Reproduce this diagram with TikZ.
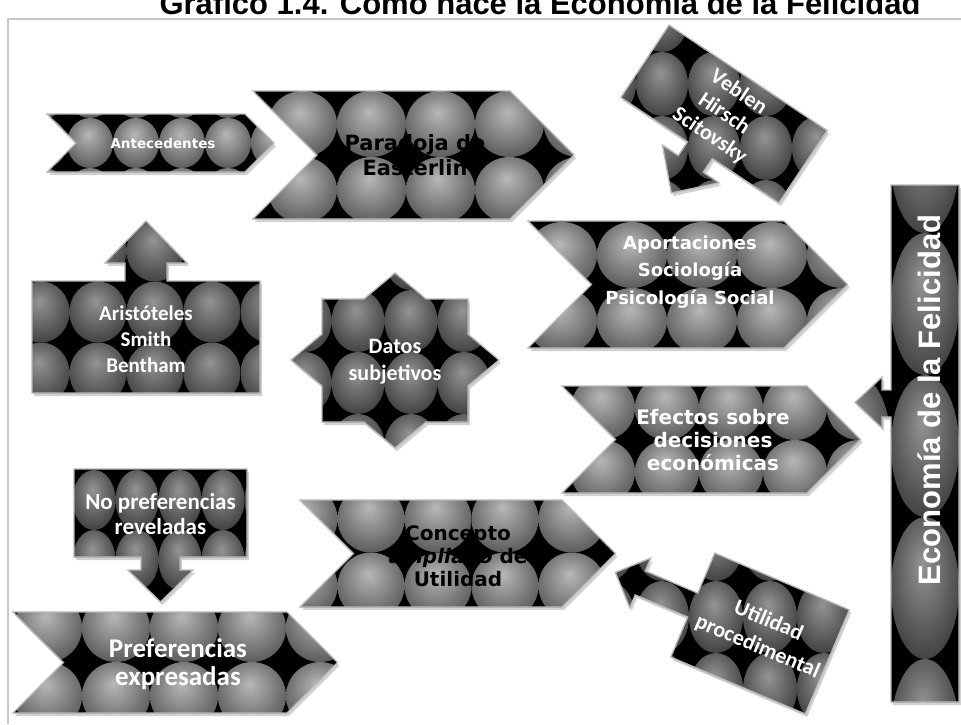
\documentclass[tikz,border=0pt]{standalone}
\usepackage{fontspec}
\setmainfont{Liberation Sans}
\newfontfamily\verd{DejaVu Sans}
\newfontfamily\cali{Carlito}
\newfontfamily\arialf{Liberation Sans}
\definecolor{eAL}{gray}{0.72}
\definecolor{eAD}{gray}{0.36}
\definecolor{eBL}{gray}{0.58}
\definecolor{eBD}{gray}{0.26}
\pgfdeclareradialshading{eggA}{\pgfpoint{-2bp}{9bp}}{color(0bp)=(eAL); color(29bp)=(eAD); color(50bp)=(eAD)}
\pgfdeclareradialshading{eggB}{\pgfpoint{-2bp}{9bp}}{color(0bp)=(eBL); color(29bp)=(eBD); color(50bp)=(eBD)}
\tikzset{
  shadowc/.style={fill=black, opacity=0.18},
  bordc/.style={draw=black!28, line width=1.3pt, line join=miter},
  wtxt/.style={text=white, align=center, inner sep=0pt},
  btxt/.style={text=black, align=center, inner sep=0pt},
}
\newcommand\texshape[9]{%
  \fill[shadowc,xshift=2pt,yshift=-3pt,#1] #2;
  \begin{scope}
    \clip[#1] #2;
    \fill[black] (0,0) rectangle (961,724);
    \foreach \ii in {0,...,#7}{\foreach \jj in {0,...,#8}{
      \shade[shading=#9] ({#3+\ii*#5},{#4+\jj*#6}) ellipse [x radius={#5*0.5pt}, y radius={#6*0.5pt}];
    }}
  \end{scope}
  \draw[bordc,#1] #2;
}
\begin{document}
\begin{tikzpicture}[x=1pt,y=-1pt]
\useasboundingbox (0,0) rectangle (961,724);
\clip (0,0) rectangle (961,724);
\fill[white] (0,0) rectangle (961,724);
\draw[black!22, line width=1.3pt] (8,724) -- (8,19) -- (961,19);
\node (title) [font=\arialf\bfseries\fontsize{31}{31}\selectfont, anchor=base] at (540,14) {Gráfico 1.4. Cómo nace la Economía de la Felicidad};

% Antecedentes
\texshape{}{(47,114) -- (245,114) -- (274,143) -- (245,172) -- (47,172) -- (76,143) -- cycle}{44}{93}{46}{50}{5}{2}{eggA}
\node (antec) [wtxt, font=\verd\bfseries\fontsize{13.5}{16}\selectfont] at (163,143) {Antecedentes};

% Paradoja
\texshape{}{(253,91) -- (510,91) -- (574,155) -- (510,219) -- (253,219) -- (317,155) -- cycle}{233.5}{124}{69}{66}{5}{1}{eggA}
\node (parad) [btxt, font=\verd\bfseries\fontsize{21}{25}\selectfont] at (415,155) {Paradoja de\\Easterlin};

% Veblen
\texshape{shift={(724,114)},rotate=-33.7}{(-95,-43.5) -- (95,-43.5) -- (95,43.5) -- (15,43.5) -- (15,60) -- (34,60) -- (0,95) -- (-34,60) -- (-15,60) -- (-15,43.5) -- (-95,43.5) -- cycle}{610}{20}{52}{64}{5}{3}{eggB}
\node (veblen) [wtxt, rotate=-33.7, font=\cali\bfseries\fontsize{22}{26}\selectfont] at (724,114) {Veblen\\Hirsch\\Scitovsky};

% Economia
\texshape{}{(891,185) -- (959,185) -- (959,702) -- (891,702) -- (891,417) -- (882,417) -- (882,428) -- (855,402.5) -- (882,377) -- (882,390) -- (891,390) -- cycle}{857}{162}{68}{142}{1}{4}{eggB}
\node (econ) [wtxt, rotate=90, anchor=base, font=\arialf\bfseries\fontsize{31}{31}\selectfont] at (940,400) {Economía de la Felicidad};

% Aportaciones
\texshape{}{(528,221) -- (784,221) -- (847.5,284.5) -- (784,348) -- (528,348) -- (591.5,284.5) -- cycle}{562}{255}{70}{66}{4}{1}{eggA}
\node (aport) [wtxt, font=\verd\bfseries\fontsize{18}{27.5}\selectfont] at (690,272) {Aportaciones\\Sociología\\Psicología Social};

% Efectos
\texshape{}{(562,386) -- (807,386) -- (860.5,439.5) -- (807,493) -- (562,493) -- (615.5,439.5) -- cycle}{539}{408}{64}{64}{5}{1}{eggA}
\node (efect) [wtxt, font=\verd\bfseries\fontsize{20}{23}\selectfont] at (713,440) {Efectos sobre\\decisiones\\económicas};

% Aristoteles
\texshape{}{(32,281) -- (125,281) -- (125,263) -- (105,263) -- (146,221) -- (187,263) -- (167,263) -- (167,281) -- (260,281) -- (260,393) -- (32,393) -- cycle}{41}{251}{57}{61}{4}{2}{eggB}
\node (arist) [wtxt, font=\cali\bfseries\fontsize{21}{26}\selectfont] at (146,339) {Aristóteles\\Smith\\Bentham};

% Datos star
\texshape{}{(395,273) -- (426.1,299) -- (468,299) -- (468,334.1) -- (499,360) -- (468,385.9) -- (468,422) -- (426.1,422) -- (395,448) -- (363.9,422) -- (322,422) -- (322,385.9) -- (291,360) -- (322,334.1) -- (322,299) -- (363.9,299) -- cycle}{305}{259}{53}{62}{4}{3}{eggB}
\node (datos) [wtxt, font=\cali\bfseries\fontsize{22}{27}\selectfont] at (395,362) {Datos\\subjetivos};

% No preferencias
\texshape{}{(74,469) -- (247,469) -- (247,557) -- (180,557) -- (180,570) -- (193,570) -- (160.5,602) -- (128,570) -- (141,570) -- (141,557) -- (74,557) -- cycle}{94}{500}{43}{60}{4}{2}{eggB}
\node (nopref) [wtxt, font=\cali\bfseries\fontsize{23}{25}\selectfont] at (160.5,514) {No preferencias\\reveladas};

% Concepto
\texshape{}{(300,500) -- (562,500) -- (615.5,553.5) -- (562,607) -- (300,607) -- (353.5,553.5) -- cycle}{304}{519}{67}{67}{5}{1}{eggA}
\node (concep) [btxt, font=\verd\bfseries\fontsize{20}{23}\selectfont] at (458,556) {Concepto\\\textit{ampliado} de\\Utilidad};

% Preferencias
\texshape{}{(13,612) -- (287,612) -- (337.5,662.5) -- (287,713) -- (13,713) -- (63.5,662.5) -- cycle}{-20}{628}{68}{68}{5}{1}{eggA}
\node (pref) [wtxt, font=\cali\bfseries\fontsize{27}{28}\selectfont] at (178,664) {Preferencias\\expresadas};

% Utilidad procedimental
\texshape{shift={(760,633.5)},rotate=-22.9}{(-73,-56.5) -- (73,-56.5) -- (73,56.5) -- (-73,56.5) -- (-73,13) -- (-130,13) -- (-130,27) -- (-157,0) -- (-130,-27) -- (-130,-13) -- (-73,-13) -- cycle}{608}{545}{54}{72}{5}{3}{eggB}
\node (utilp) [wtxt, rotate=-22.9, font=\cali\bfseries\fontsize{22}{28}\selectfont] at (763,634) {Utilidad\\procedimental};
\end{tikzpicture}
\end{document}
